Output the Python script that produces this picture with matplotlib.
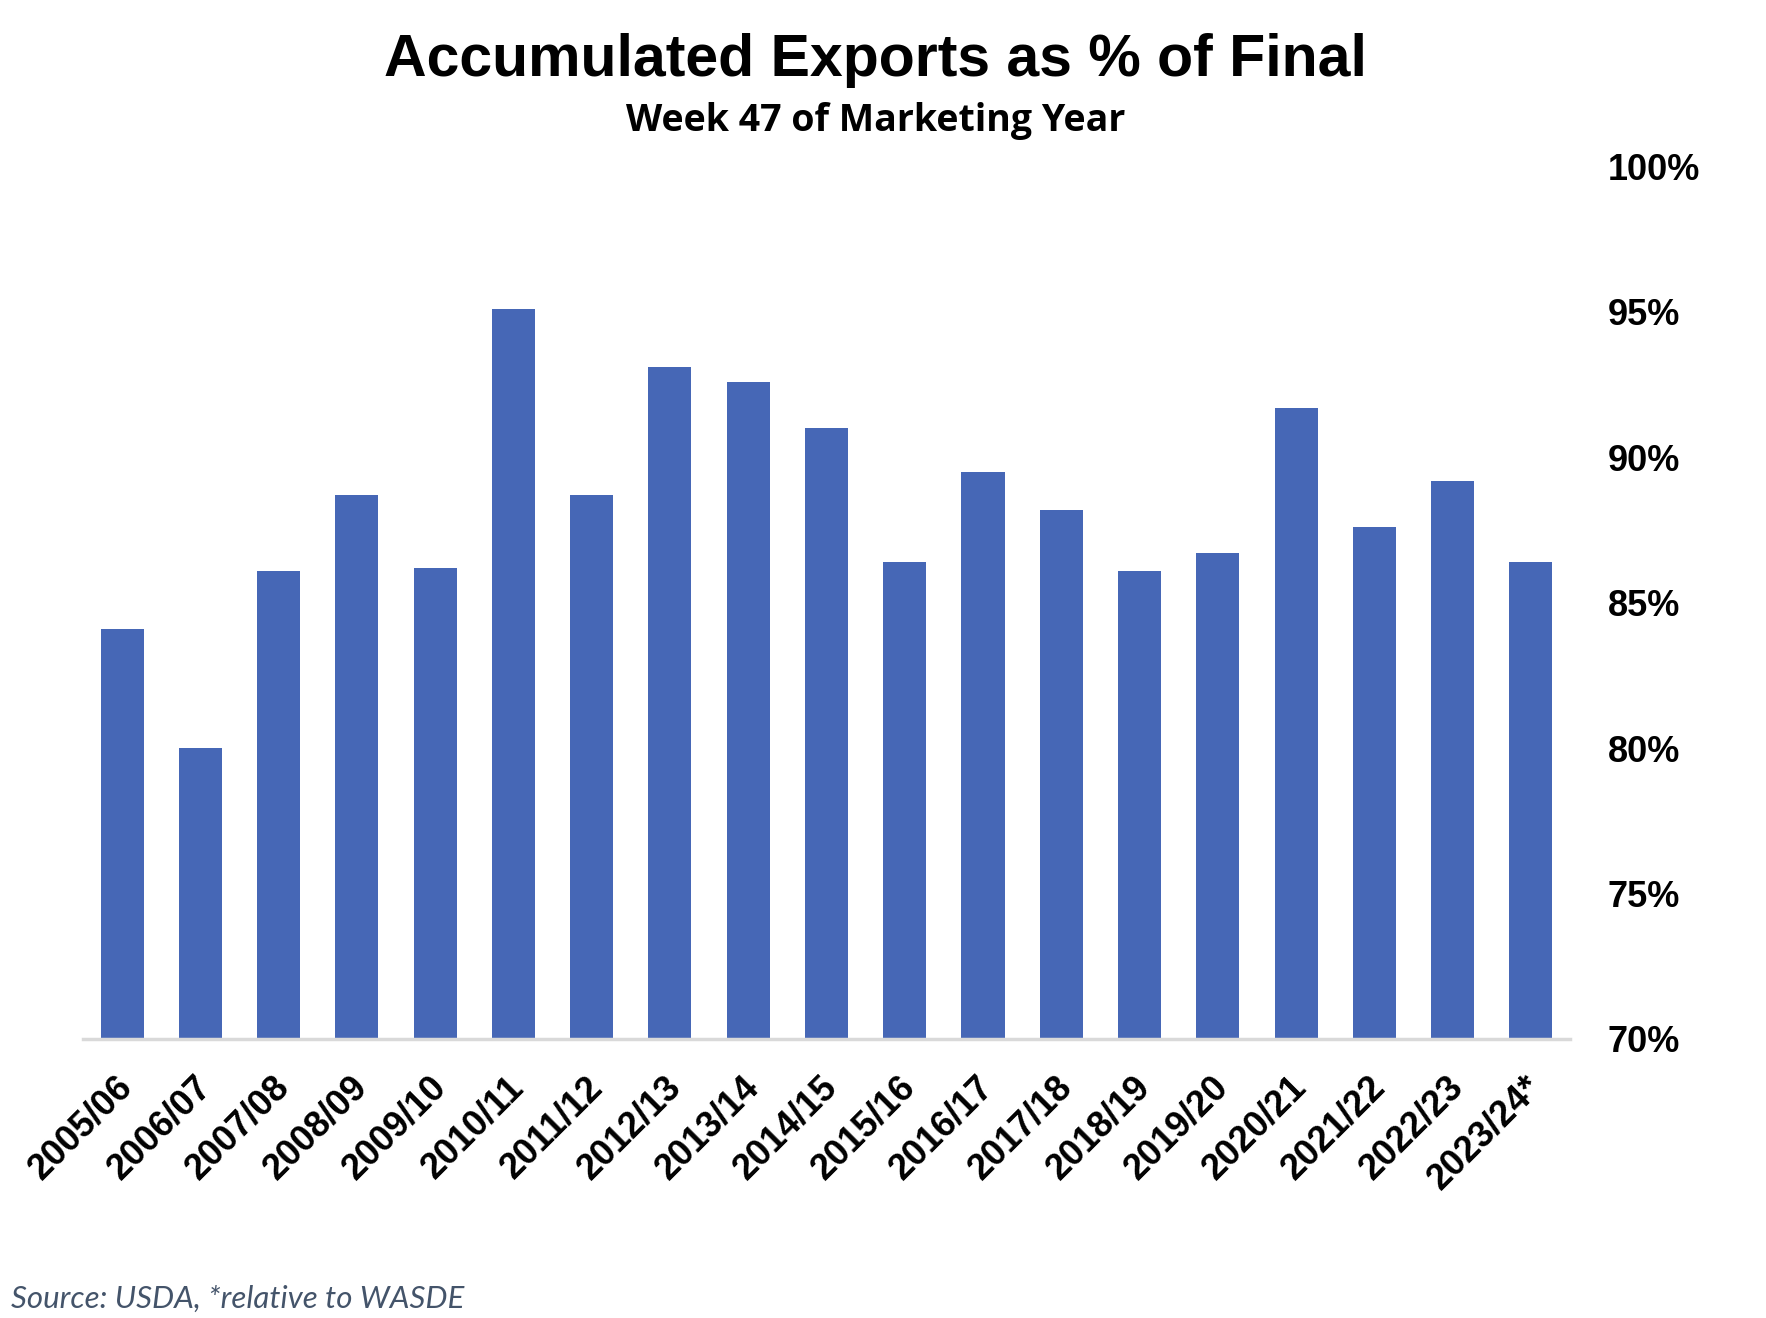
import matplotlib.pyplot as plt
from matplotlib.ticker import FuncFormatter
from matplotlib.transforms import ScaledTranslation

years = ['2005/06', '2006/07', '2007/08', '2008/09', '2009/10', '2010/11', '2011/12',
         '2012/13', '2013/14', '2014/15', '2015/16', '2016/17', '2017/18', '2018/19',
         '2019/20', '2020/21', '2021/22', '2022/23', '2023/24*']
pct_of_final = [84.1, 80.0, 86.1, 88.7, 86.2, 95.1, 88.7, 93.1, 92.6, 91.0,
                86.4, 89.5, 88.2, 86.1, 86.7, 91.7, 87.6, 89.2, 86.4]
yticks = [70, 75, 80, 85, 90, 95, 100]

bar_color = '#4667B6'

fig = plt.figure(figsize=(17.66, 13.18), dpi=100)
ax = fig.add_axes([0.047, 0.2117, 0.842, 0.662])

x = range(len(years))
ax.bar(x, pct_of_final, width=0.55, color=bar_color, zorder=2)

ax.set_xlim(-0.5, len(years) - 0.5)
ax.set_ylim(70, 100)
ax.set_yticks(yticks)
ax.yaxis.set_major_formatter(FuncFormatter(lambda v, p: f'{v:.0f}%'))
ax.yaxis.tick_right()
ax.tick_params(axis='y', length=0, pad=27)
for lbl in ax.get_yticklabels():
    lbl.set_fontfamily('Liberation Sans')
    lbl.set_fontweight('bold')
    lbl.set_fontsize(26)
    lbl.set_horizontalalignment('left')

ax.set_xticks(list(x))
ax.set_xticklabels(years, rotation=45, ha='right', rotation_mode='anchor',
                   fontfamily='Liberation Sans', fontweight='bold', fontsize=26)
ax.tick_params(axis='x', length=0, pad=22)
shift = ScaledTranslation(-5 / 72, 0, fig.dpi_scale_trans)
for lbl in ax.get_xticklabels():
    lbl.set_transform(lbl.get_transform() + shift)

for s in ['top', 'right', 'left']:
    ax.spines[s].set_visible(False)
ax.spines['bottom'].set_color('#D9D9D9')
ax.spines['bottom'].set_linewidth(2.5)
ax.spines['bottom'].set_zorder(3)

fig.text(0.496, 0.954, 'Accumulated Exports as % of Final', ha='center', va='center',
         fontfamily='Liberation Sans', fontweight='bold', fontsize=42.5)
fig.text(0.496, 0.908, 'Week 47 of Marketing Year', ha='center', va='center',
         fontfamily='Open Sans', fontweight='bold', fontsize=27)
fig.text(0.006, 0.004, 'Source: USDA, *relative to WASDE', ha='left', va='bottom',
         fontfamily='Lato', style='italic', fontsize=22.5, color='#44546A')

fig.savefig('out.png', dpi=100)
